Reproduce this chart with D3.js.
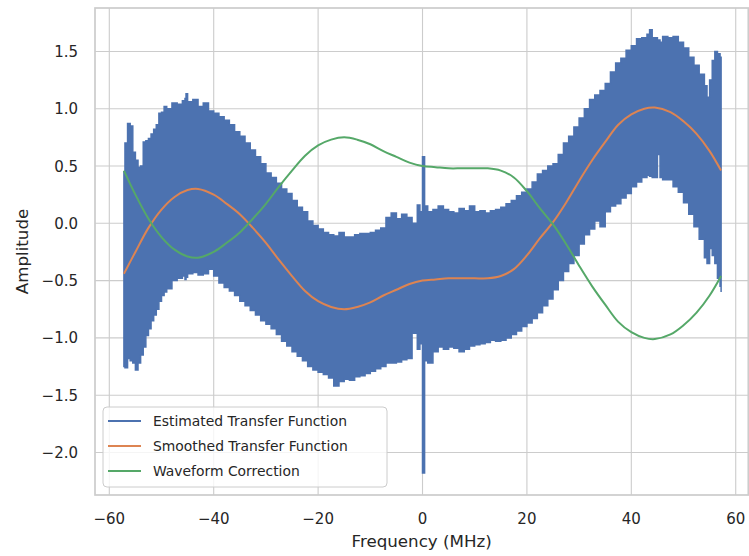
<!DOCTYPE html>
<html>
<head>
<meta charset="utf-8">
<script src="https://cdn.jsdelivr.net/npm/d3@7"></script>
<style>
  body { margin: 0; background: #fff; }
  text { font-family: "DejaVu Sans", sans-serif; fill: #262626; }
</style>
</head>
<body>
<svg id="chart" width="749" height="556"></svg>
<script>
// estimated transfer function envelope: [freq MHz, upper, lower]
const estimated = [
  [-57.2, 0.45, -1.25], [-57, 0.70, -1.26], [-56.5, 0.87, -1.18], [-56, 0.85, -1.20],
  [-55.5, 0.62, -1.22], [-55, 0.55, -1.28], [-54.5, 0.49, -1.22], [-54, 0.50, -1.15],
  [-53.5, 0.71, -1.08], [-53, 0.72, -0.98], [-52.5, 0.74, -0.92], [-52, 0.78, -0.85],
  [-51.5, 0.82, -0.80], [-51, 0.86, -0.75], [-50.5, 0.96, -0.68], [-50, 0.97, -0.63],
  [-49.5, 1.02, -0.60], [-49, 1.00, -0.57], [-48, 1.05, -0.50], [-47, 1.04, -0.48],
  [-46, 1.07, -0.46], [-45.5, 1.09, -0.49], [-45.3, 1.13, -0.47], [-45, 1.06, -0.44],
  [-44, 1.08, -0.43], [-43, 1.02, -0.45], [-42, 1.05, -0.44], [-41, 0.98, -0.40],
  [-40, 0.96, -0.46], [-39, 0.93, -0.52], [-38, 0.90, -0.56], [-37, 0.86, -0.59],
  [-36, 0.80, -0.63], [-35, 0.76, -0.68], [-34, 0.70, -0.72], [-33, 0.64, -0.76],
  [-32, 0.58, -0.80], [-31, 0.52, -0.85], [-30, 0.44, -0.88], [-29, 0.40, -0.92],
  [-28, 0.35, -0.97], [-27, 0.30, -1.03], [-26, 0.26, -1.07], [-25, 0.20, -1.12],
  [-24, 0.14, -1.16], [-23, 0.10, -1.20], [-22, 0.02, -1.25], [-21, -0.02, -1.28],
  [-20, -0.05, -1.30], [-19, -0.08, -1.32], [-18, -0.10, -1.35], [-17, -0.11, -1.42],
  [-16, -0.08, -1.38], [-15, -0.12, -1.36], [-14, -0.12, -1.37], [-13, -0.10, -1.34],
  [-12, -0.09, -1.33], [-11, -0.09, -1.31], [-10, -0.08, -1.29], [-9, -0.06, -1.27],
  [-8, -0.04, -1.25], [-7, 0.05, -1.22], [-6, 0.09, -1.22], [-5, 0.04, -1.21],
  [-4, 0.08, -1.19], [-3, 0.05, -1.18], [-2, 0.00, -0.96], [-1, 0.16, -1.10],
  [-0.5, 0.10, -1.05], [0, 0.58, -2.18], [0.4, 0.15, -1.20], [1, 0.10, -1.22],
  [2, 0.12, -1.12], [3, 0.15, -1.08], [4, 0.12, -1.10], [5, 0.10, -1.08],
  [6, 0.09, -1.09], [7, 0.13, -1.12], [8, 0.11, -1.10], [9, 0.15, -1.07],
  [10, 0.10, -1.06], [11, 0.11, -1.05], [12, 0.09, -1.04], [13, 0.11, -1.02],
  [14, 0.12, -1.03], [15, 0.14, -1.02], [16, 0.17, -1.00], [17, 0.20, -0.97],
  [18, 0.24, -0.94], [19, 0.27, -0.90], [20, 0.30, -0.87], [21, 0.36, -0.83],
  [22, 0.43, -0.78], [23, 0.46, -0.72], [24, 0.50, -0.66], [25, 0.52, -0.58],
  [26, 0.60, -0.50], [27, 0.70, -0.42], [28, 0.76, -0.35], [29, 0.84, -0.28],
  [30, 0.92, -0.18], [31, 1.00, -0.10], [32, 1.08, -0.05], [33, 1.12, 0.02],
  [34, 1.16, -0.03], [35, 1.22, 0.10], [36, 1.32, 0.15], [37, 1.40, 0.17],
  [38, 1.44, 0.22], [39, 1.51, 0.26], [40, 1.55, 0.32], [41, 1.61, 0.36],
  [42, 1.62, 0.40], [43, 1.65, 0.42], [43.5, 1.69, 0.41], [44, 1.62, 0.40],
  [45, 1.60, 0.60], [45.5, 1.58, 0.40], [46, 1.63, 0.38], [47, 1.62, 0.38],
  [48, 1.63, 0.32], [49, 1.58, 0.27], [50, 1.53, 0.18], [51, 1.45, 0.08],
  [52, 1.38, -0.03], [53, 1.30, -0.14], [54, 1.20, -0.30], [54.5, 1.10, -0.35],
  [55, 1.25, -0.22], [55.5, 1.42, -0.28], [56, 1.50, -0.35], [56.5, 1.48, -0.48],
  [57, 1.45, -0.55], [57.2, 1.20, -0.60]
];

const smoothFreq = [-57.2, -55, -52.5, -50, -47.5, -45, -43, -40, -37.5, -35, -32.5, -30,
  -27.5, -25, -22.5, -20, -17.5, -15, -12.5, -10, -7.5, -5, -2.5, 0, 2.5, 5, 7.5, 10,
  12.5, 15, 17.5, 20, 22.5, 25, 27.5, 30, 32.5, 35, 37.5, 40, 42.5, 44.5, 47.5, 50,
  52.5, 55, 57.2];
const smoothed = [-0.44, -0.25, -0.04, 0.12, 0.23, 0.29, 0.30, 0.25, 0.17, 0.08, -0.04, -0.17,
  -0.32, -0.46, -0.59, -0.68, -0.73, -0.75, -0.73, -0.69, -0.63, -0.58, -0.53, -0.50, -0.49, -0.48, -0.48, -0.48,
  -0.48, -0.46, -0.40, -0.28, -0.13, 0.01, 0.18, 0.37, 0.55, 0.71, 0.86, 0.95, 1.00, 1.01, 0.97, 0.89,
  0.78, 0.63, 0.46];
const correction = [0.46, 0.25, 0.04, -0.12, -0.23, -0.29, -0.30, -0.25, -0.17, -0.08, 0.04, 0.17,
  0.32, 0.46, 0.59, 0.68, 0.73, 0.75, 0.73, 0.69, 0.63, 0.58, 0.53, 0.50, 0.49, 0.48, 0.48, 0.48,
  0.48, 0.46, 0.40, 0.28, 0.13, -0.01, -0.18, -0.37, -0.55, -0.71, -0.86, -0.95, -1.00, -1.01, -0.97, -0.89,
  -0.78, -0.63, -0.46];

const xTicks = [-60, -40, -20, 0, 20, 40, 60];
const yTicks = [-2.0, -1.5, -1.0, -0.5, 0.0, 0.5, 1.0, 1.5];
const seriesNames = ["Estimated Transfer Function", "Smoothed Transfer Function", "Waveform Correction"];
const colors = ["#4c72b0", "#dd8452", "#55a868"];

const svg = d3.select("#chart");
const box = { left: 95, right: 748.3, top: 8, bottom: 495 };

const x = d3.scaleLinear().domain([-62.74, 62.41]).range([box.left, box.right]);
const y = d3.scaleLinear().domain([-2.371, 1.879]).range([box.bottom, box.top]);
const fmt = v => d3.format(".1f")(v).replace("-", "\u2212");

svg.append("rect").attr("width", 749).attr("height", 556).attr("fill", "#fff");

// grid
svg.append("g").selectAll("line").data(xTicks).join("line")
  .attr("x1", d => x(d)).attr("x2", d => x(d))
  .attr("y1", box.top).attr("y2", box.bottom)
  .attr("stroke", "#cccccc").attr("stroke-width", 1.1);
svg.append("g").selectAll("line").data(yTicks).join("line")
  .attr("x1", box.left).attr("x2", box.right)
  .attr("y1", d => y(d)).attr("y2", d => y(d))
  .attr("stroke", "#cccccc").attr("stroke-width", 1.1);

const plot = svg.append("g");

// noisy estimate drawn as a dense band
const band = d3.area()
  .x(d => x(d[0]))
  .y0(d => y(d[2]))
  .y1(d => y(d[1]))
  .curve(d3.curveStepAfter);
plot.append("path")
  .datum(estimated)
  .attr("d", band)
  .attr("fill", colors[0])
  .attr("stroke", colors[0])
  .attr("stroke-width", 1.5)
  .attr("stroke-linejoin", "miter");

const line = d3.line()
  .x(d => x(d[0]))
  .y(d => y(d[1]))
  .curve(d3.curveCatmullRom);

plot.append("path")
  .datum(smoothFreq.map((f, i) => [f, smoothed[i]]))
  .attr("d", line)
  .attr("fill", "none")
  .attr("stroke", colors[1])
  .attr("stroke-width", 2);

plot.append("path")
  .datum(smoothFreq.map((f, i) => [f, correction[i]]))
  .attr("d", line)
  .attr("fill", "none")
  .attr("stroke", colors[2])
  .attr("stroke-width", 2);

// frame
svg.append("rect")
  .attr("x", box.left).attr("y", box.top)
  .attr("width", box.right - box.left).attr("height", box.bottom - box.top)
  .attr("fill", "none").attr("stroke", "#cccccc").attr("stroke-width", 1.7);

// tick labels
svg.append("g").selectAll("text").data(xTicks).join("text")
  .attr("x", d => x(d)).attr("y", 524)
  .attr("text-anchor", "middle")
  .style("font-size", "15px")
  .text(d => String(d).replace("-", "\u2212"));
svg.append("g").selectAll("text").data(yTicks).join("text")
  .attr("x", 78).attr("y", d => y(d) + 5.5)
  .attr("text-anchor", "end")
  .style("font-size", "15px")
  .text(d => fmt(d));

// axis labels
svg.append("text")
  .attr("x", (box.left + box.right) / 2).attr("y", 547)
  .attr("text-anchor", "middle")
  .style("font-size", "16.7px")
  .text("Frequency (MHz)");
svg.append("text")
  .attr("transform", `translate(28, ${(box.top + box.bottom) / 2}) rotate(-90)`)
  .attr("text-anchor", "middle")
  .style("font-size", "16.7px")
  .text("Amplitude");

// legend
const legend = svg.append("g").attr("transform", "translate(103, 407)");
legend.append("rect")
  .attr("width", 284).attr("height", 80)
  .attr("rx", 4)
  .attr("fill", "#fff").attr("fill-opacity", 0.8)
  .attr("stroke", "#cccccc").attr("stroke-width", 1);
const items = legend.selectAll("g.item").data(seriesNames).join("g")
  .attr("class", "item")
  .attr("transform", (d, i) => `translate(0, ${14 + i * 25})`);
items.append("line")
  .attr("x1", 5).attr("x2", 38)
  .attr("stroke", (d, i) => colors[i]).attr("stroke-width", 2);
items.append("text")
  .attr("x", 50).attr("y", 5)
  .style("font-size", "13.9px")
  .text(d => d);
</script>
</body>
</html>
